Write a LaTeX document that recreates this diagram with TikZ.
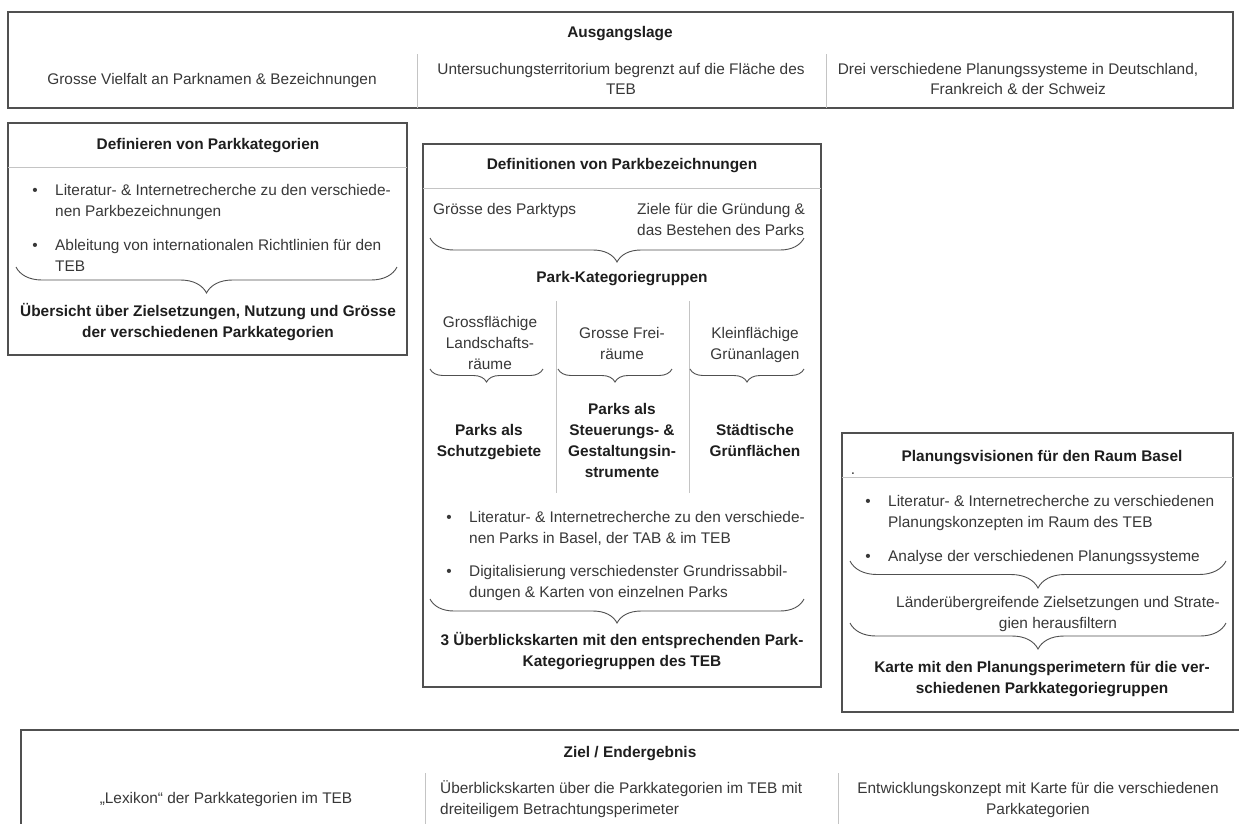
\documentclass[tikz,border=0pt]{standalone}
\usepackage{fontspec}
\setmainfont{Liberation Sans}
\usetikzlibrary{decorations.pathreplacing}

\definecolor{rahmen}{HTML}{505050}
\definecolor{schrift}{HTML}{383838}
\definecolor{fett}{HTML}{1E1E1E}
\definecolor{trenn}{HTML}{C4C4C4}
\newcommand{\txtgr}{\fontsize{15.4pt}{21pt}\selectfont}
\newcommand{\txteng}{\fontsize{15.4pt}{19.5pt}\selectfont}

\tikzset{
	kasten/.style={draw=rahmen, line width=1.5pt},
	trennlinie/.style={draw=trenn, line width=0.8pt},
	klammer/.style={draw=rahmen, line width=0.9pt, decorate, decoration={brace, mirror, amplitude=#1}},
	txt/.style={font=\txtgr, text=schrift, inner sep=0pt, anchor=base, align=center},
	txtl/.style={font=\txtgr, text=schrift, inner sep=0pt, anchor=base west, align=left},
	kopf/.style={font=\txtgr\bfseries, text=fett, inner sep=0pt, anchor=base, align=center},
	punkt/.style={font=\txtgr, text=schrift, inner sep=0pt, anchor=base}
}

\begin{document}
\begin{tikzpicture}[x=1pt, y=-1pt]
	\path[use as bounding box, fill=white] (0,0) rectangle (1239,823);

	\draw[kasten] (8,12) rectangle (1233,108);
	\draw[trennlinie] (417,54) -- (417,108);
	\draw[trennlinie] (826,54) -- (826,108);
	\node[kopf] (lageT) at (620,37) {Ausgangslage};
	\node[txt] (lageA) at (212,84) {Grosse Vielfalt an Parknamen \& Bezeichnungen};
	\node[txt, font=\txteng] (lageB) at (621,94) {Untersuchungsterritorium begrenzt auf die Fläche des\\TEB};
	\node[txt, font=\txteng] (lageC) at (1018,94) {Drei verschiedene Planungssysteme in Deutschland,\\Frankreich \& der Schweiz};

	\draw[kasten] (8,123) rectangle (407,355);
	\draw[trennlinie] (8,167) -- (407,167);
	\node[kopf] (katT) at (208,149) {Definieren von Parkkategorien};
	\node[punkt] (katP1) at (35,195) {•};
	\node[txtl] (katL1) at (55,216) {Literatur- \& Internetrecherche zu den verschiede-\\nen Parkbezeichnungen};
	\node[punkt] (katP2) at (35,250) {•};
	\node[txtl] (katL2) at (55,271) {Ableitung von internationalen Richtlinien für den\\TEB};
	\draw[klammer=26pt] (16,267) -- (397,267);
	\node[kopf] (katE) at (208,337) {Übersicht über Zielsetzungen, Nutzung und Grösse\\der verschiedenen Parkkategorien};

	\draw[kasten] (423,144) rectangle (821,687);
	\draw[trennlinie] (423,188) -- (821,188);
	\node[kopf] (bezT) at (622,169) {Definitionen von Parkbezeichnungen};
	\node[txtl] (bezA) at (433,214) {Grösse des Parktyps};
	\node[txtl] (bezB) at (637,235) {Ziele für die Gründung \&\\das Bestehen des Parks};
	\draw[klammer=24pt] (430,238) -- (804,238);
	\node[kopf] (bezG) at (622,282) {Park-Kategoriegruppen};
	\draw[trennlinie] (556,301) -- (556,493);
	\draw[trennlinie] (689,301) -- (689,493);
	\node[txt] (gruppe1) at (490,369) {Grossflächige\\Landschafts-\\räume};
	\node[txt] (gruppe2) at (622,359) {Grosse Frei-\\räume};
	\node[txt] (gruppe3) at (755,359) {Kleinflächige\\Grünanlagen};
	\draw[klammer=13pt] (430,369) -- (543,369);
	\draw[klammer=13pt] (558,369) -- (672,369);
	\draw[klammer=13pt] (690,369) -- (804,369);
	\node[kopf] (park1) at (489,456) {Parks als\\Schutzgebiete};
	\node[kopf] (park2) at (622,477) {Parks als\\Steuerungs- \&\\Gestaltungsin-\\strumente};
	\node[kopf] (park3) at (755,456) {Städtische\\Grünflächen};
	\node[punkt] (bezP1) at (449,522) {•};
	\node[txtl] (bezL1) at (469,543) {Literatur- \& Internetrecherche zu den verschiede-\\nen Parks in Basel, der TAB \& im TEB};
	\node[punkt] (bezP2) at (449,576) {•};
	\node[txtl] (bezL2) at (469,597) {Digitalisierung verschiedenster Grundrissabbil-\\dungen \& Karten von einzelnen Parks};
	\draw[klammer=24pt] (430,599) -- (804,599);
	\node[kopf] (bezE) at (622,666) {3 Überblickskarten mit den entsprechenden Park-\\Kategoriegruppen des TEB};

	\draw[kasten] (842,433) rectangle (1233,712);
	\draw[trennlinie] (842,477) -- (1233,477);
	\node[kopf] (visT) at (1042,461) {Planungsvisionen für den Raum Basel};
	\node[punkt] (visD) at (853,474) {.};
	\node[punkt] (visP1) at (868,506) {•};
	\node[txtl] (visL1) at (888,527) {Literatur- \& Internetrecherche zu verschiedenen\\Planungskonzepten im Raum des TEB};
	\node[punkt] (visP2) at (868,561) {•};
	\node[txtl] (visL2) at (888,561) {Analyse der verschiedenen Planungssysteme};
	\draw[klammer=27pt] (850,561) -- (1226,561);
	\node[txt] (visZ) at (1058,628) {Länderübergreifende Zielsetzungen und Strate-\\gien herausfiltern};
	\draw[klammer=26pt] (850,623) -- (1226,623);
	\node[kopf] (visE) at (1042,693) {Karte mit den Planungsperimetern für die ver-\\schiedenen Parkkategoriegruppen};

	\draw[kasten] (21,730) rectangle (1250,840);
	\draw[trennlinie] (425,773) -- (425,830);
	\draw[trennlinie] (838,773) -- (838,830);
	\node[kopf] (zielT) at (630,757) {Ziel / Endergebnis};
	\node[txt] (zielA) at (226,803) {„Lexikon“ der Parkkategorien im TEB};
	\node[txtl] (zielB) at (440,814) {Überblickskarten über die Parkkategorien im TEB mit\\dreiteiligem Betrachtungsperimeter};
	\node[txt] (zielC) at (1038,814) {Entwicklungskonzept mit Karte für die verschiedenen\\Parkkategorien};

\end{tikzpicture}
\end{document}
